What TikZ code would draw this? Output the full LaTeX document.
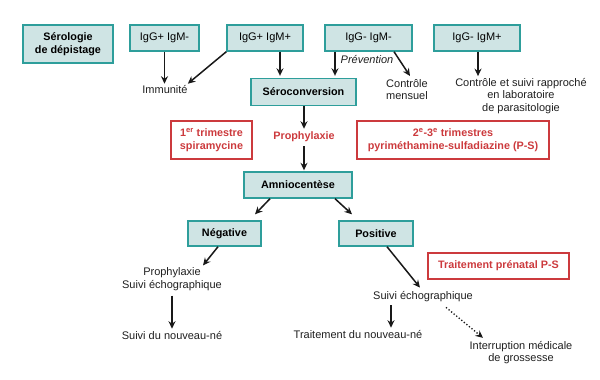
\documentclass[tikz,border=0pt]{standalone}
\usepackage{fontspec}
\setmainfont{Liberation Sans}
\usetikzlibrary{arrows.meta,calc}
\definecolor{tealb}{HTML}{2E9E9B}
\definecolor{tealf}{HTML}{CFE4E4}
\definecolor{redc}{HTML}{CC3A3D}
\begin{document}
\begin{tikzpicture}[x=1pt,y=-1pt,
  every node/.style={font=\fontsize{11}{12.5}\selectfont, align=center, inner sep=0pt},
  tbox/.style={draw=tealb, fill=tealf, line width=1.4pt, minimum height=26pt},
  tboxb/.style={tbox, font=\fontsize{10.8}{12.5}\selectfont\bfseries},
  rbox/.style={draw=redc, line width=1.2pt, text=redc, font=\fontsize{10.8}{12.5}\selectfont\bfseries},
  lbl/.style={text=black!88},
  arr/.style={-{Stealth[length=7.5pt,width=7pt,inset=2.5pt]}, line width=1.5pt, black!90},
  darr/.style={-{Stealth[length=7.5pt,width=7pt,inset=2.5pt]}, line width=1.3pt, black!90, dash pattern=on 1.3pt off 2pt}]
\useasboundingbox (0,0) rectangle (600,380);
% top row
\node[tboxb, minimum width=90pt, minimum height=38pt] (sero0) at (68,44) {Sérologie\\de dépistage};
\node[tbox, minimum width=69pt] (gpmm) at (164.5,38) {IgG+ IgM-};
\node[tbox, minimum width=76pt] (gpmp) at (265,38) {IgG+ IgM+};
\node[tbox, minimum width=87pt] (gmmm) at (368.5,38) {IgG- IgM-};
\node[tbox, minimum width=86pt] (gmmp) at (477,38) {IgG- IgM+};
% second row
\node[lbl] (immun) at (165,90) {Immunité};
\node[lbl, font=\fontsize{11}{12.5}\selectfont\itshape] (prev) at (367,60) {Prévention};
\node[lbl] (mens) at (407,89.5) {Contrôle\\mensuel};
\node[lbl] (ctrl) at (521,96) {Contrôle et suivi rapproché\\en laboratoire\\de parasitologie};
\node[tboxb, minimum width=105pt, minimum height=27pt] (seroc) at (303.5,92) {Séroconversion};
% treatment row
\node[rbox, minimum width=81pt, minimum height=38pt] (tri1) at (211.5,140) {1\textsuperscript{er} trimestre\\spiramycine};
\node[text=redc, font=\fontsize{10.8}{12.5}\selectfont\bfseries] (proph) at (304,137) {Prophylaxie};
\node[rbox, minimum width=192pt, minimum height=38pt] (tri23) at (453,140) {2\textsuperscript{e}-3\textsuperscript{e} trimestres\\pyriméthamine-sulfadiazine (P-S)};
% amniocentese
\node[tboxb, minimum width=108pt] (amnio) at (298,185) {Amniocentèse};
\node[tboxb, minimum width=73pt, minimum height=25pt] (neg) at (224.5,233.5) {Négative};
\node[tboxb, minimum width=74pt, minimum height=25pt] (pos) at (376,233.5) {Positive};
% bottom
\node[lbl] (proph2) at (172,279) {Prophylaxie\\Suivi échographique};
\node[lbl] (nn) at (172,336) {Suivi du nouveau-né};
\node[rbox, minimum width=141pt, minimum height=26pt] (tpre) at (498.5,266) {Traitement prénatal P-S};
\node[lbl] (suivi2) at (423,297) {Suivi échographique};
\node[lbl] (trait) at (358,335) {Traitement du nouveau-né};
\node[lbl] (interr) at (521,352.5) {Interruption médicale\\de grossesse};
% connectors
\draw[arr] (gpmm.south) -- ([yshift=2pt]gpmm.south |- immun.north);
\draw[arr] (gpmp.south west) -- ([yshift=2pt]immun.north east);
\draw[arr] ([xshift=15pt]gpmp.south) -- ([xshift=15pt,yshift=2pt]gpmp.south |- seroc.north);
\draw[arr] ([xshift=-33.5pt]gmmm.south) -- ([xshift=-33.5pt,yshift=2pt]gmmm.south |- seroc.north);
\draw[arr] ([xshift=25.5pt]gmmm.south) -- ([xshift=3pt,yshift=3pt]mens.north);
\draw[arr] ([xshift=1pt]gmmp.south) -- ([xshift=1pt,yshift=2pt]gmmp.south |- ctrl.north);
\draw[arr] ([xshift=0.5pt]seroc.south) -- ([xshift=0.5pt,yshift=3pt]seroc.south |- proph.north);
\draw[arr] ([yshift=-4pt]proph.south) -- ([yshift=1pt]proph.south |- amnio.north);
\draw[arr] ([xshift=-28pt]amnio.south) -- ([xshift=30.5pt,yshift=6pt]neg.north);
\draw[arr] ([xshift=37pt]amnio.south) -- ([xshift=-24pt,yshift=6pt]pos.north);
\draw[arr] ([xshift=-6.5pt]neg.south) -- ([xshift=31pt,yshift=2pt]proph2.north);
\draw[arr] ([yshift=-5pt]proph2.south) -- ([yshift=3pt]nn.north);
\draw[arr] ([xshift=11pt]pos.south) -- ([xshift=-3pt,yshift=4pt]suivi2.north);
\draw[arr] ([xshift=-32pt,yshift=-3pt]suivi2.south) -- ([xshift=33pt,yshift=3pt]trait.north);
\draw[darr] ([xshift=23pt,yshift=-5pt]suivi2.south) -- ([xshift=-38pt,yshift=3pt]interr.north);
\end{tikzpicture}
\end{document}
